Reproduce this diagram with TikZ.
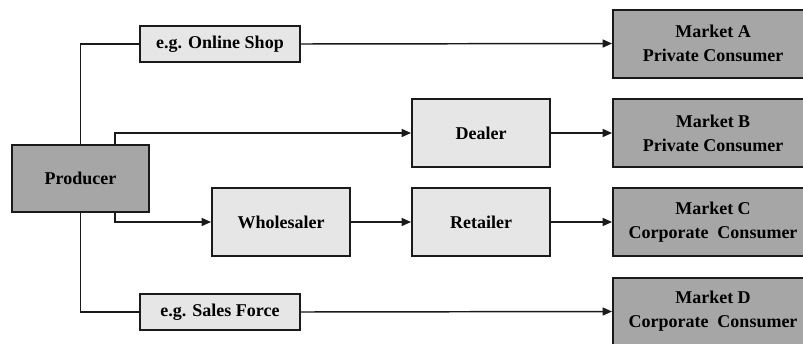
\documentclass[tikz,border=0pt]{standalone}
\usepackage{fontspec}
\setmainfont{Liberation Serif}[BoldFont={Liberation Serif Bold}]
\newfontfamily\labelfont{Liberation Serif Bold}
\usetikzlibrary{arrows.meta,calc}
\definecolor{boxdark}{HTML}{A6A6A6}
\definecolor{boxlight}{HTML}{E6E6E6}
\definecolor{edge}{HTML}{1A1A1A}
\begin{document}
\begin{tikzpicture}[x=0.75pt,y=-0.75pt,
  base/.style={draw=edge,line width=1.5pt,align=center,inner sep=0pt,
    font=\labelfont\fontsize{13.5}{18}\selectfont,text=black},
  darkbox/.style={base,fill=boxdark},
  lightbox/.style={base,fill=boxlight},
  channel/.style={lightbox,minimum width=120pt,minimum height=27.5pt},
  stage/.style={lightbox,minimum width=103.5pt,minimum height=51pt},
  market/.style={darkbox,minimum width=150pt,minimum height=51pt},
  link/.style={draw=edge,line width=1.1pt},
  arrow/.style={link,-{Triangle[length=7pt,width=6pt]}}]
\clip (0,0) rectangle (803,343);
\fill[white] (0,0) rectangle (803,343);

% producer and intermediaries
\node[darkbox,minimum width=102.75pt,minimum height=50.25pt] (prod) at (80.5,178.5) {Producer};
\node[channel] (online) at (220,44) {e.g. Online Shop};
\node[channel] (sales) at (220,312) {e.g. Sales Force};
\node[stage] (dealer) at (481,133) {Dealer};
\node[stage] (whole) at (281,222) {Wholesaler};
\node[stage] (retail) at (481,222) {Retailer};

% markets
\node[market] (mA) at (713,43.5) {Market A\\Private Consumer};
\node[market] (mB) at (713,133) {Market B\\Private Consumer};
\node[market] (mC) at (713,222) {Market C\\Corporate\ \ Consumer};
\node[market] (mD) at (713,311.5) {Market D\\Corporate\ \ Consumer};

% distribution paths
\coordinate (pN) at ($(prod.north)+(34.5,0)$);
\coordinate (pS) at ($(prod.south)+(34.5,0)$);
\draw[link] (prod.north) |- (online.west);
\draw[arrow] (online.east) -- (mA.west);
\draw[arrow] (pN) |- (dealer.west);
\draw[arrow] (dealer.east) -- (mB.west);
\draw[arrow] (pS) |- (whole.west);
\draw[arrow] (whole.east) -- (retail.west);
\draw[arrow] (retail.east) -- (mC.west);
\draw[link] (prod.south) |- (sales.west);
\draw[arrow] (sales.east) -- (mD.west);
\end{tikzpicture}
\end{document}
